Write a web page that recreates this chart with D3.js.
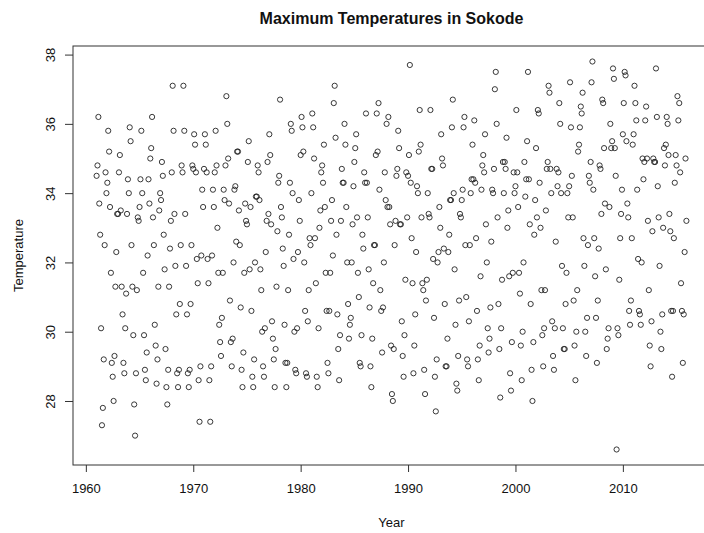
<!DOCTYPE html>
<html>
<head>
<meta charset="utf-8">
<script src="https://cdn.jsdelivr.net/npm/d3@7"></script>
<style>
  body { margin: 0; background: #fff; }
  svg { display: block; font-family: "Liberation Sans", Arial, sans-serif; }
</style>
</head>
<body>
<svg></svg>
<script>
    /* data: one row per year, Jan..Dec */
    let years = [1961, 1962, 1963, 1964, 1965, 1966, 1967, 1968, 1969, 1970,
                 1971, 1972, 1973, 1974, 1975, 1976, 1977, 1978, 1979, 1980,
                 1981, 1982, 1983, 1984, 1985, 1986, 1987, 1988, 1989, 1990,
                 1991, 1992, 1993, 1994, 1995, 1996, 1997, 1998, 1999, 2000,
                 2001, 2002, 2003, 2004, 2005, 2006, 2007, 2008, 2009, 2010,
                 2011, 2012, 2013, 2014, 2015];
    let tmax = [
        [34.5, 34.8, 36.2, 33.7, 32.8, 30.1, 27.3, 27.8, 29.2, 32.5, 34.6, 34.0],
        [34.3, 35.8, 35.2, 33.6, 31.7, 29.1, 28.7, 28.0, 29.3, 31.3, 32.3, 33.4],
        [33.4, 34.6, 35.1, 33.5, 31.3, 30.5, 29.1, 28.8, 30.1, 31.1, 33.4, 34.4],
        [34.0, 35.9, 35.5, 32.5, 31.3, 29.9, 27.9, 27.0, 28.8, 31.2, 33.3, 33.2],
        [33.6, 34.4, 35.8, 34.0, 31.7, 29.9, 28.9, 28.6, 29.4, 32.2, 34.4, 33.7],
        [35.0, 35.3, 36.2, 33.3, 32.5, 30.2, 29.6, 28.5, 29.2, 31.3, 33.5, 34.0],
        [33.8, 34.9, 34.5, 32.8, 31.8, 29.5, 28.4, 27.9, 28.9, 31.3, 32.4, 33.2],
        [34.6, 37.1, 35.8, 33.4, 31.9, 30.5, 28.8, 28.4, 28.9, 30.8, 32.5, 34.8],
        [34.6, 37.1, 35.8, 33.4, 31.9, 30.5, 28.8, 28.4, 28.9, 30.8, 32.5, 34.8],
        [34.7, 35.7, 35.4, 34.6, 32.1, 31.4, 28.6, 27.4, 29.0, 32.2, 34.1, 33.6],
        [34.7, 35.7, 35.4, 34.6, 32.1, 31.4, 28.6, 27.4, 29.0, 32.2, 34.1, 33.6],
        [34.6, 35.8, 34.8, 33.0, 31.7, 30.2, 29.7, 29.3, 30.4, 31.7, 34.1, 33.8],
        [34.8, 36.8, 36.0, 35.0, 33.7, 30.9, 29.7, 29.0, 29.8, 32.0, 34.1, 34.2],
        [32.6, 35.2, 35.2, 33.5, 32.5, 30.7, 28.9, 28.4, 29.4, 31.7, 33.7, 33.2],
        [33.1, 34.9, 35.5, 31.8, 33.6, 30.6, 28.7, 28.4, 29.2, 32.0, 33.9, 33.9],
        [34.8, 34.6, 33.8, 31.8, 31.2, 30.0, 29.0, 28.7, 30.1, 32.3, 33.2, 34.9],
        [33.4, 35.7, 35.1, 33.1, 30.3, 29.8, 29.2, 28.4, 29.5, 31.3, 32.9, 34.3],
        [34.5, 36.7, 33.6, 33.3, 32.4, 31.9, 30.2, 29.1, 28.4, 29.1, 31.2, 32.8],
        [34.3, 36.0, 35.8, 34.0, 32.1, 30.0, 28.9, 28.8, 30.1, 32.3, 33.8, 33.2],
        [35.1, 36.2, 35.9, 35.2, 32.0, 30.6, 28.8, 28.7, 30.3, 31.2, 32.7, 32.5],
        [34.0, 36.3, 35.9, 35.0, 32.7, 31.4, 28.7, 28.4, 30.1, 33.0, 33.5, 34.6],
        [34.8, 34.3, 35.4, 33.6, 31.7, 30.6, 29.1, 28.8, 30.6, 31.7, 33.2, 33.8],
        [32.2, 36.6, 37.1, 35.6, 32.8, 30.5, 29.5, 28.6, 29.9, 33.2, 34.7, 34.3],
        [34.3, 36.0, 35.4, 33.6, 32.0, 30.8, 29.8, 30.2, 30.4, 32.0, 33.1, 34.2],
        [34.9, 35.3, 35.7, 33.3, 31.7, 31.0, 29.1, 29.0, 29.9, 32.8, 32.4, 34.6],
        [34.3, 36.3, 34.3, 33.3, 31.8, 30.7, 29.0, 28.4, 29.8, 31.4, 32.5, 32.5],
        [35.1, 36.3, 35.2, 36.6, 34.1, 31.2, 30.6, 29.4, 30.7, 32.0, 34.6, 33.8],
        [36.0, 33.6, 36.2, 33.6, 33.1, 29.6, 28.2, 28.0, 29.5, 32.5, 33.2, 34.5],
        [34.7, 35.8, 35.3, 33.1, 33.1, 30.3, 29.3, 28.7, 29.9, 31.5, 34.6, 33.3],
        [34.5, 35.1, 37.7, 34.3, 32.7, 31.4, 28.8, 29.6, 30.5, 32.3, 34.2, 34.0],
        [35.2, 36.4, 35.4, 33.3, 31.4, 31.2, 28.9, 28.2, 30.9, 31.5, 34.0, 33.4],
        [33.3, 36.4, 34.7, 34.7, 32.1, 30.4, 28.7, 27.7, 29.2, 32.0, 32.3, 33.6],
        [33.0, 35.7, 35.0, 34.8, 32.4, 30.8, 29.0, 29.0, 29.8, 32.3, 32.8, 33.8],
        [33.8, 35.9, 36.7, 34.0, 31.8, 30.2, 28.5, 28.3, 29.3, 30.9, 33.4, 33.3],
        [33.8, 34.1, 35.9, 36.2, 32.5, 31.0, 29.2, 29.0, 30.3, 32.5, 34.0, 34.4],
        [35.4, 34.4, 36.1, 34.3, 32.7, 30.6, 29.2, 28.6, 29.6, 31.6, 34.1, 34.8],
        [35.1, 34.6, 35.7, 33.1, 32.0, 30.1, 29.4, 29.8, 30.7, 32.6, 34.1, 34.0],
        [34.7, 37.0, 37.5, 36.0, 33.3, 30.8, 29.5, 28.1, 30.1, 31.5, 34.9, 34.0],
        [34.9, 34.7, 35.6, 33.0, 33.5, 31.6, 28.8, 28.3, 29.7, 31.7, 34.6, 34.0],
        [34.2, 36.4, 34.6, 33.6, 31.7, 31.1, 29.6, 28.6, 30.0, 32.0, 34.9, 33.9],
        [34.4, 35.5, 37.5, 34.4, 33.1, 30.8, 28.9, 28.0, 29.7, 32.8, 33.8, 35.3],
        [33.3, 36.4, 36.3, 34.3, 33.0, 31.2, 29.9, 29.0, 30.1, 31.2, 33.5, 34.7],
        [34.9, 37.1, 36.9, 34.7, 34.0, 30.3, 29.3, 28.9, 30.1, 32.6, 34.7, 34.2],
        [34.6, 36.6, 36.0, 34.0, 31.9, 30.1, 29.5, 29.5, 30.8, 31.7, 34.0, 33.3],
        [34.2, 37.2, 35.9, 34.5, 33.3, 30.9, 29.6, 28.6, 30.0, 31.2, 35.2, 35.4],
        [35.9, 36.5, 36.3, 36.9, 32.7, 31.9, 30.0, 29.3, 30.4, 32.5, 34.5, 34.3],
        [34.9, 37.2, 37.8, 34.1, 32.7, 31.6, 30.4, 29.1, 30.9, 32.4, 34.8, 34.7],
        [33.4, 36.7, 36.6, 35.3, 33.7, 31.8, 29.5, 29.8, 30.1, 33.6, 36.0, 35.3],
        [35.5, 37.6, 37.3, 35.3, 34.5, 26.6, 30.1, 29.9, 31.5, 32.7, 33.4, 34.1],
        [35.7, 36.6, 37.5, 37.4, 35.5, 33.7, 33.3, 30.6, 30.2, 30.9, 32.7, 35.4],
        [35.7, 37.1, 36.6, 36.1, 34.1, 32.1, 30.6, 30.5, 30.2, 32.0, 35.0, 34.4],
        [34.9, 36.1, 36.5, 35.0, 33.2, 31.2, 29.6, 29.0, 30.3, 32.9, 35.0, 34.9],
        [34.9, 37.6, 36.2, 34.2, 33.3, 31.9, 30.0, 29.5, 30.5, 33.0, 35.3, 34.8],
        [35.4, 36.2, 36.0, 35.1, 33.4, 32.9, 30.6, 28.7, 30.6, 32.7, 34.3, 35.1],
        [34.8, 36.8, 36.1, 36.6, 34.6, 31.4, 30.6, 29.1, 30.5, 32.3, 35.0, 33.2]
    ];
    let xTicks = [1960, 1970, 1980, 1990, 2000, 2010];
    let yTicks = [28, 30, 32, 34, 36, 38];

    let width = 704;
    let height = 533;
    // plot box (right edge runs past the window, as in the picture)
    let boxLeft = 73, boxRight = 710, boxTop = 46, boxBottom = 465;

    const svg = d3.select("svg").attr("width", width).attr("height", height);

    // flatten to points: x = year + month/12
    let points = [];
    years.forEach((yr, i) => {
        tmax[i].forEach((t, m) => points.push({ time: yr + m / 12, temp: t }));
    });

    // R-style 4% padding around the data range
    const pad = (ext) => {
        let d = (ext[1] - ext[0]) * 0.04;
        return [ext[0] - d, ext[1] + d];
    };
    let xScale = d3.scaleLinear().domain(pad(d3.extent(points, d => d.time))).range([boxLeft, boxRight]);
    let yScale = d3.scaleLinear().domain(pad(d3.extent(points, d => d.temp))).range([boxBottom, boxTop]);

    // box
    svg.append("rect")
        .attr("x", boxLeft).attr("y", boxTop)
        .attr("width", boxRight - boxLeft).attr("height", boxBottom - boxTop)
        .attr("fill", "none").attr("stroke", "#333").attr("stroke-width", 1);

    // axes
    let xAxis = d3.axisBottom(xScale).tickValues(xTicks).tickSize(7).tickPadding(12)
        .tickFormat(d3.format("d"));
    let gx = svg.append("g").attr("transform", "translate(0," + boxBottom + ")").call(xAxis);
    gx.select(".domain").remove();
    gx.selectAll("line").attr("stroke", "#333");
    gx.selectAll("text").attr("font-size", "13px").attr("fill", "#111")
        .attr("font-family", "Liberation Sans, Arial, sans-serif");

    let yAxis = d3.axisLeft(yScale).tickValues(yTicks).tickSize(8).tickFormat(d3.format("d"));
    let gy = svg.append("g").attr("transform", "translate(" + boxLeft + ",0)").call(yAxis);
    gy.select(".domain").remove();
    gy.selectAll("line").attr("stroke", "#333");
    gy.selectAll("text").remove();
    gy.selectAll(".tick").append("text")
        .attr("transform", "translate(-23,0) rotate(-90)")
        .attr("text-anchor", "middle")
        .attr("dy", "0.35em")
        .attr("font-size", "13px")
        .attr("font-family", "Liberation Sans, Arial, sans-serif")
        .attr("fill", "#111")
        .text(d => d);

    // points
    svg.append("g").selectAll("circle").data(points)
        .enter().append("circle")
        .attr("cx", d => xScale(d.time))
        .attr("cy", d => yScale(d.temp))
        .attr("r", 2.6)
        .attr("fill", "none")
        .attr("stroke", "#222")
        .attr("stroke-width", 0.9);

    // titles
    let midX = (boxLeft + boxRight) / 2;
    svg.append("text").attr("x", midX).attr("y", 18).attr("dy", "0.35em")
        .attr("text-anchor", "middle").attr("font-size", "16px").attr("font-weight", "bold")
        .attr("fill", "#111").text("Maximum Temperatures in Sokode");
    svg.append("text").attr("x", midX).attr("y", 522).attr("dy", "0.35em")
        .attr("text-anchor", "middle").attr("font-size", "13px")
        .attr("fill", "#111").text("Year");
    svg.append("text")
        .attr("transform", "translate(18," + (boxTop + boxBottom) / 2 + ") rotate(-90)")
        .attr("dy", "0.35em").attr("text-anchor", "middle").attr("font-size", "13px")
        .attr("fill", "#111").text("Temperature");
</script>
</body>
</html>
